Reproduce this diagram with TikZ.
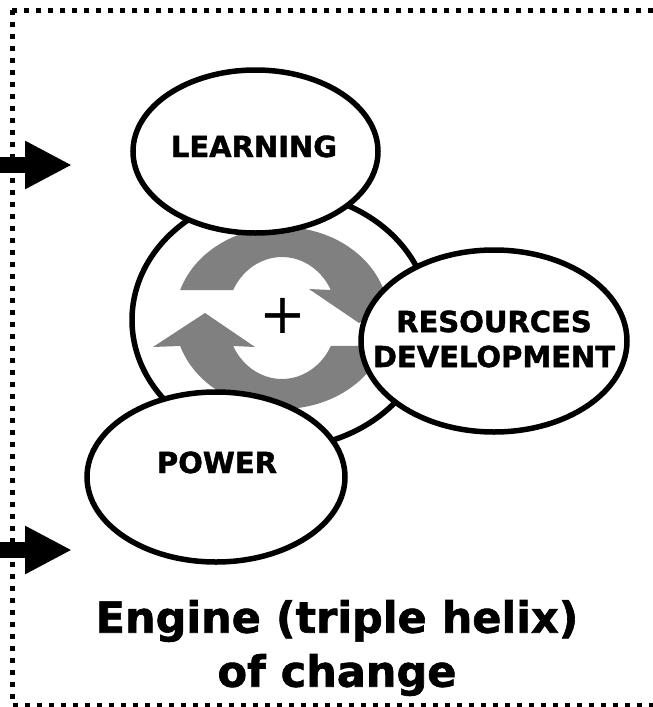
\documentclass[tikz,border=0pt]{standalone}
\usepackage{fontspec}
\setmainfont{DejaVu Sans}[BoldFeatures={FakeBold=1.5}]
\usetikzlibrary{shapes.geometric,arrows.meta,calc}
\definecolor{helixgray}{RGB}{128,128,128}
\begin{document}
\begin{tikzpicture}[x=1pt,y=1pt,
  bubble/.style={ellipse, draw=black, line width=5.5pt, fill=white, inner sep=0pt},
  bubtext/.style={font=\fontsize{29}{35}\selectfont\bfseries, align=center, inner sep=0pt},
  bordline/.style={line width=5pt, dash pattern=on 5pt off 7pt},
  inarrow/.style={line width=16pt, -{Triangle[length=47pt,width=45pt]}},
  helix/.style={fill=helixgray, draw=none}]
\path[use as bounding box, fill=white] (0,0) rectangle (653,-707);

% dotted frame (open to the right)
\draw[bordline] (12,-10) -- (665,-10);
\draw[bordline] (12,-10) -- (12,-705) -- (665,-705);

% incoming arrows
\coordinate (in1s) at (0,-165);
\coordinate (in1e) at (72,-165);
\coordinate (in2s) at (0,-550);
\coordinate (in2e) at (72,-550);
\draw[inarrow] (in1s) -- (in1e);
\draw[inarrow] (in2s) -- (in2e);

% central engine
\node[bubble, minimum width=298pt, minimum height=256pt] (hub) at (281,-320) {};

\coordinate (hc) at (282,-318);
\fill[helix] ($(hc)+(162.1:107pt and 91pt)$)
  arc[start angle=162.1, end angle=17.9, x radius=107pt, y radius=91pt]
  -- (411,-289) -- (359,-323) -- (309,-289)
  -- ($(hc)+(27.3:55pt and 61pt)$)
  arc[start angle=27.3, end angle=152.7, x radius=55pt, y radius=61pt] -- cycle;
\fill[helix] ($(hc)+(-17.9:107pt and 91pt)$)
  arc[start angle=-17.9, end angle=-162.1, x radius=107pt, y radius=91pt]
  -- (153,-347) -- (205,-313) -- (255,-347)
  -- ($(hc)+(-152.7:55pt and 61pt)$)
  arc[start angle=-152.7, end angle=-27.3, x radius=55pt, y radius=61pt] -- cycle;

\node[font=\fontsize{56}{56}\selectfont, inner sep=0pt] (plus) at (283,-316) {+};

% three strands
\node[bubble, minimum width=245pt, minimum height=163pt] (learn) at (255.5,-151.5) {};
\node[bubtext, anchor=base] (learntext) at (254,-157) {LEARNING};

\node[bubble, minimum width=266pt, minimum height=182pt] (res) at (494,-341) {};
\node[bubtext] (restext) at (494,-339) {RESOURCES\\DEVELOPMENT};

\node[bubble, minimum width=258pt, minimum height=170pt] (power) at (216,-477) {};
\node[bubtext, anchor=base] (powertext) at (217,-473) {POWER};

% caption
\node[font=\fontsize{43}{54}\selectfont\bfseries, align=center, inner sep=0pt]
  (title) at (337,-648) {Engine (triple helix)\\of change};
\end{tikzpicture}
\end{document}
